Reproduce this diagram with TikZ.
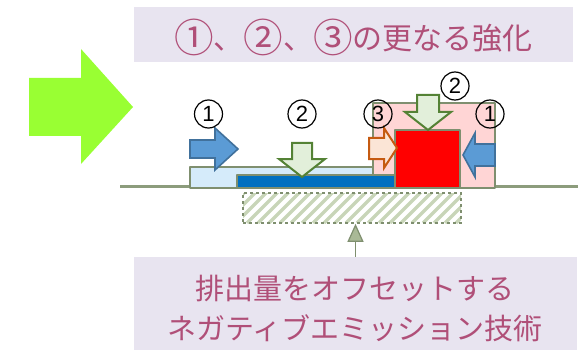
\documentclass[tikz,border=0pt]{standalone}
\usepackage{fontspec}
\setmainfont{Noto Sans CJK JP}
\newfontfamily\numfont{Liberation Sans}
\usetikzlibrary{arrows.meta}
\definecolor{lav}{HTML}{E8E4F0}
\definecolor{rosetext}{HTML}{B04F78}
\definecolor{lime}{HTML}{99FF33}
\definecolor{olive}{HTML}{7F8F6F}
\definecolor{ground}{HTML}{8C9C7C}
\definecolor{headc}{HTML}{A9B996}
\definecolor{ltblue}{HTML}{D5EBFA}
\definecolor{dkblue}{HTML}{0070C0}
\definecolor{pinkbox}{HTML}{FFD5D5}
\definecolor{arrblue}{HTML}{5B9BD5}
\definecolor{arrblueb}{HTML}{41719C}
\definecolor{arrgreen}{HTML}{E2EFDA}
\definecolor{arrgreenb}{HTML}{548235}
\definecolor{arrorange}{HTML}{FBE5D6}
\definecolor{arrorangeb}{HTML}{C55A11}
\definecolor{hatchc}{HTML}{C8D5B8}
\newcommand\bigcn[1]{\raisebox{-0.1em}{\scalebox{1.32}{#1}}}
\tikzset{
  banner/.style={fill=lav, inner sep=0pt},
  bannertext/.style={text=rosetext, inner sep=0pt, align=center},
  layer/.style={draw=olive, line width=2.2pt, line join=round},
  bluearr/.style={fill=arrblue, draw=arrblueb, line width=1.6pt, line join=miter},
  greenarr/.style={fill=arrgreen, draw=arrgreenb, line width=2pt, line join=miter},
  orangearr/.style={fill=arrorange, draw=arrorangeb, line width=2pt, line join=miter},
  num/.style={circle, draw=black, line width=1.2pt, minimum size=28pt, inner sep=0pt,
    font=\numfont\fontsize{22}{22}\selectfont},
  hatchline/.style={draw=hatchc, line width=3.2pt, solid},
}
\begin{document}
\begin{tikzpicture}[x=1pt,y=-1pt]
\useasboundingbox (0,0) rectangle (578,350);
% title
\node[banner, minimum width=439pt, minimum height=55pt] (title) at (353.5,34.5) {};
\node[bannertext, font=\fontsize{30}{34}\selectfont] (titletext) at (353.5,37) {\bigcn{①}、\bigcn{②}、\bigcn{③}の更なる強化};
% big green arrow
\fill[lime] (29,78) -- (81,78) -- (81,49) -- (133,107) -- (81,164) -- (81,136) -- (29,136) -- cycle;
% ground line
\draw[ground, line width=3pt] (120,186) -- (578,186);
% layers
\draw[layer, fill=pinkbox] (373,103) rectangle (495,188);
\draw[layer, fill=ltblue] (190,167) rectangle (373,188);
\draw[layer, fill=dkblue] (237,175) rectangle (395,188);
\draw[layer, fill=red] (395,130) rectangle (460,188);
% hatched area
\node[draw=olive, dashed, line width=1.6pt, minimum width=218pt, minimum height=30pt, inner sep=0pt,
  path picture={\foreach \i in {-40,-29,...,230}{\draw[hatchline] ([xshift=\i pt]path picture bounding box.south west) -- ++(40pt,40pt);}}]
  (hatch) at (352,208) {};
% arrows
\draw[bluearr] (190,140) -- (215,140) -- (215,128) -- (238,149) -- (215,170) -- (215,158) -- (190,158) -- cycle;
\draw[bluearr] (495,144) -- (475,144) -- (475,133) -- (463,155) -- (475,177) -- (475,166) -- (495,166) -- cycle;
\draw[greenarr] (292,143) -- (312,143) -- (312,159) -- (325,159) -- (302,177) -- (279,159) -- (292,159) -- cycle;
\draw[greenarr] (417,95) -- (439,95) -- (439,112) -- (451,112) -- (428,130) -- (405,112) -- (417,112) -- cycle;
\draw[orangearr] (369,138) -- (384,138) -- (384,128) -- (397,148) -- (384,168) -- (384,159) -- (369,159) -- cycle;
% numbers
\node[num] (n1a) at (208.5,114) {1};
\node[num] (n2a) at (302,114) {2};
\node[num] (n3) at (378,114) {3};
\node[num] (n2b) at (455,86) {2};
\node[num] (n1b) at (490,114) {1};
% bottom note
\node[banner, minimum width=443pt, minimum height=93pt] (note) at (355.5,303.5) {};
\node[bannertext, font=\fontsize{29}{40}\selectfont] (notetext) at (355,308) {排出量をオフセットする\\ネガティブエミッション技術};
\draw[olive, line width=1.2pt, -{Triangle[width=16pt,length=18pt,fill=headc]}] (note.north) -- (note.north |- hatch.south);
\end{tikzpicture}
\end{document}
